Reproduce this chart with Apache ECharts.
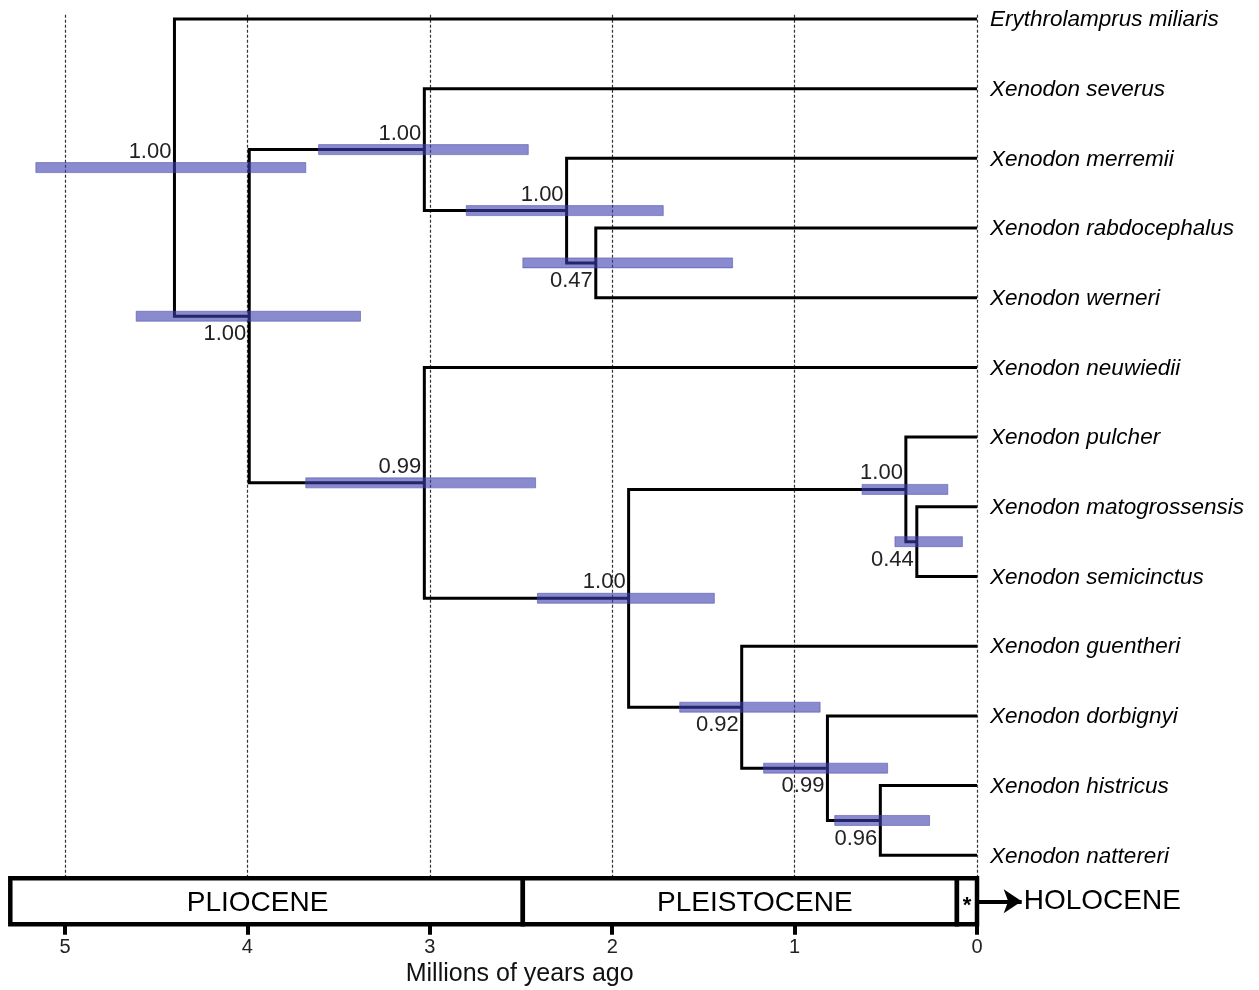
<!DOCTYPE html>
<html>
<head>
<meta charset="utf-8">
<script src="https://cdn.jsdelivr.net/npm/echarts@6/dist/echarts.min.js"></script>
<style>
  html, body { margin: 0; padding: 0; background: #fff; }
  #main { width: 1259px; height: 990px; }
</style>
</head>
<body>
<div id="main"></div>
<script>
// tips, top to bottom
var tipNames = ['Erythrolamprus miliaris', 'Xenodon severus', 'Xenodon merremii', 'Xenodon rabdocephalus',
  'Xenodon werneri', 'Xenodon neuwiedii', 'Xenodon pulcher', 'Xenodon matogrossensis',
  'Xenodon semicinctus', 'Xenodon guentheri', 'Xenodon dorbignyi', 'Xenodon histricus', 'Xenodon nattereri'];

// internal nodes (n0 = root)
var nodeChildren = [['t0', 'n1'], ['n2', 'n5'], ['t1', 'n3'], ['t2', 'n4'], ['t3', 't4'], ['t5', 'n6'],
  ['n7', 'n9'], ['t6', 'n8'], ['t7', 't8'], ['t9', 'n10'], ['t10', 'n11'], ['t11', 't12']];
var nodeAges = [4.40, 3.99, 3.03, 2.25, 2.09, 3.03, 1.91, 0.39, 0.33, 1.29, 0.82, 0.53];
var hpdOld = [5.16, 4.61, 3.61, 2.80, 2.49, 3.68, 2.41, 0.63, 0.45, 1.63, 1.17, 0.78];
var hpdYoung = [3.68, 3.38, 2.46, 1.72, 1.34, 2.42, 1.44, 0.16, 0.08, 0.86, 0.49, 0.26];
var support = ['1.00', '1.00', '1.00', '1.00', '0.47', '0.99', '1.00', '1.00', '0.44', '0.92', '0.99', '0.96'];

// epochs
var epochNames = ['PLIOCENE', 'PLEISTOCENE', '*'];
var epochStart = [5.3, 2.49, 0.11];
var epochEnd = [2.49, 0.11, 0];

var xTicks = [0, 1, 2, 3, 4, 5];

// layout bits (not data)
var labelSide = [-1, 1, -1, -1, 1, -1, -1, -1, 1, 1, 1, 1];  // -1 above, 1 below
var epochShift = [-9, 15, 0];
var boxTop = 12.33, boxBottom = 12.99;

// row of a tip / node = tip index or mean of children rows
function ageOf(id) { return id[0] == 't' ? 0 : nodeAges[+id.slice(1)]; }
function rowOf(id) {
  if (id[0] == 't') return +id.slice(1);
  var c = nodeChildren[+id.slice(1)];
  return (rowOf(c[0]) + rowOf(c[1])) / 2;
}

var branchData = nodeChildren.map(function (c, i) {
  var a = nodeAges[i];
  return { coords: [[ageOf(c[0]), rowOf(c[0])], [a, rowOf(c[0])], [a, rowOf(c[1])], [ageOf(c[1]), rowOf(c[1])]] };
});
var gridData = xTicks.map(function (t) { return { coords: [[t, -0.06], [t, boxTop - 0.03]] }; });
var tickData = xTicks.map(function (t) { return { coords: [[t, boxBottom], [t, boxBottom + 0.15]] }; });
var hpdData = nodeAges.map(function (a, i) { return [hpdOld[i], hpdYoung[i], rowOf('n' + i)]; });
var supData = nodeAges.map(function (a, i) { return [a, rowOf('n' + i), support[i], labelSide[i]]; });
var tipData = tipNames.map(function (n, i) { return [0, i, n]; });
var epochData = epochNames.map(function (n, i) { return [epochStart[i], epochEnd[i], n]; });

var FONT = '"Liberation Sans", Arial, sans-serif';

var myChart = echarts.init(document.getElementById('main'));
myChart.setOption({
  backgroundColor: '#fff',
  animation: false,
  grid: { left: 10.3, right: 282, top: 5, bottom: 65, containLabel: false, outerBoundsMode: 'none' },
  xAxis: {
    type: 'value', inverse: true, min: 0, max: 5.3, position: 'bottom',
    axisLine: { show: false, onZero: false },
    axisTick: { show: false },
    axisLabel: { customValues: xTicks, margin: 12, fontSize: 20, color: '#222', fontFamily: 'Liberation Sans' },
    splitLine: { show: false },
    name: 'Millions of years ago', nameLocation: 'middle', nameGap: 37,
    nameTextStyle: { fontSize: 25, color: '#111', fontFamily: 'Liberation Sans', padding: [0, 0, 0, 52] }
  },
  yAxis: { type: 'value', inverse: true, min: -0.2, max: 13, show: false },
  series: [
    {
      // dashed time lines
      type: 'lines', coordinateSystem: 'cartesian2d', silent: true, clip: false,
      lineStyle: { color: '#333', width: 1.2, type: [3, 2], opacity: 1 },
      data: gridData
    },
    {
      // axis ticks under the epoch bar
      type: 'lines', coordinateSystem: 'cartesian2d', silent: true, clip: false,
      lineStyle: { color: '#000', width: 4, opacity: 1 },
      data: tickData
    },
    {
      type: 'lines', coordinateSystem: 'cartesian2d', polyline: true, silent: true, clip: false,
      lineStyle: { color: '#000', width: 3, opacity: 1, join: 'miter', cap: 'butt' },
      data: branchData
    },
    {
      // 95% HPD bars
      type: 'custom', coordinateSystem: 'cartesian2d', clip: false,
      encode: { x: [0, 1], y: 2 },
      data: hpdData,
      renderItem: function (params, api) {
        var p1 = api.coord([api.value(0), api.value(2)]);
        var p2 = api.coord([api.value(1), api.value(2)]);
        return {
          type: 'rect',
          shape: { x: Math.min(p1[0], p2[0]), y: p1[1] - 5, width: Math.abs(p2[0] - p1[0]), height: 10 },
          style: { fill: 'rgba(60,60,175,0.6)', stroke: 'rgba(70,70,170,0.5)', lineWidth: 1 }
        };
      }
    },
    {
      // posterior support
      type: 'custom', coordinateSystem: 'cartesian2d', clip: false,
      encode: { x: 0, y: 1 },
      data: supData,
      renderItem: function (params, api) {
        var p = api.coord([api.value(0), api.value(1)]);
        var side = api.value(3);
        return {
          type: 'text',
          style: {
            x: p[0] - 3, y: p[1] + (side < 0 ? -16 : 18),
            text: supData[params.dataIndex][2],
            align: 'right', verticalAlign: 'middle',
            fill: '#222', font: '22px ' + FONT
          }
        };
      }
    },
    {
      // tip names
      type: 'custom', coordinateSystem: 'cartesian2d', clip: false,
      encode: { x: 0, y: 1 },
      data: tipData,
      renderItem: function (params, api) {
        var p = api.coord([api.value(0), api.value(1)]);
        return {
          type: 'text',
          style: {
            x: p[0] + 13, y: p[1] + 1,
            text: tipData[params.dataIndex][2],
            align: 'left', verticalAlign: 'middle',
            fill: '#000', font: 'italic 22.5px ' + FONT
          }
        };
      }
    },
    {
      // epoch boxes
      type: 'custom', coordinateSystem: 'cartesian2d', clip: false,
      encode: { x: [0, 1] },
      data: epochData,
      renderItem: function (params, api) {
        var p1 = api.coord([api.value(0), boxTop]);
        var p2 = api.coord([api.value(1), boxBottom]);
        var name = epochData[params.dataIndex][2];
        return {
          type: 'group',
          children: [{
            type: 'rect',
            shape: { x: p1[0], y: p1[1], width: p2[0] - p1[0], height: p2[1] - p1[1] },
            style: { fill: '#fff', stroke: '#000', lineWidth: 4.5 }
          }, {
            type: 'text',
            style: {
              x: (p1[0] + p2[0]) / 2 + epochShift[params.dataIndex], y: (p1[1] + p2[1]) / 2 + (name == '*' ? 5 : 2),
              text: name, align: 'center', verticalAlign: 'middle', fill: '#000',
              font: (name == '*' ? 'bold 22px ' : '28px ') + FONT
            }
          }]
        };
      }
    },
    {
      // arrow to Holocene
      type: 'lines', coordinateSystem: 'cartesian2d', clip: false, silent: true,
      symbol: ['none', 'arrow'], symbolSize: [14, 18],
      lineStyle: { color: '#000', width: 4, opacity: 1 },
      label: { show: true, position: 'end', distance: 2, formatter: 'HOLOCENE', fontSize: 28, color: '#000', fontFamily: 'Liberation Sans' },
      data: [{ coords: [[-0.01, (boxTop + boxBottom) / 2], [-0.245, (boxTop + boxBottom) / 2]] }]
    }
  ]
});
</script>
</body>
</html>
